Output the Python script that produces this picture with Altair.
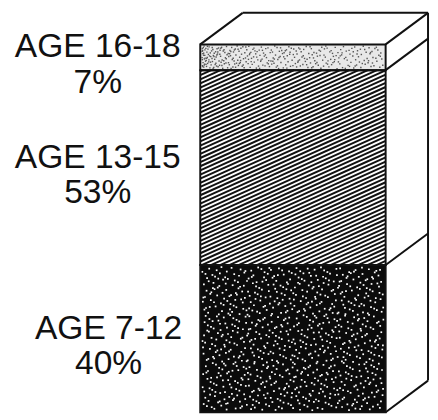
import altair as alt
import pandas as pd
import numpy as np

# ---- data (bottom to top) ----
ages = ["AGE 7-12", "AGE 13-15", "AGE 16-18"]
shares = [40, 53, 7]

# ---- style ----
fills = ["#0b0b0b", "#ffffff", "#e8e8e8"]
label_x = [102, 91, 91]        # pixel centre of each label block
INK = "#111111"
W, H = 428, 410
X_RANGE = [195, 383]
Y_RANGE = [407, 34]
DEPTH_X = 43 / (X_RANGE[1] - X_RANGE[0])            # in x units
DEPTH_Y = 32 / (Y_RANGE[0] - Y_RANGE[1]) * 100       # in percent units

y1 = np.cumsum(shares)
y0 = y1 - np.array(shares)
seg = pd.DataFrame({
    "age": ages, "share": shares, "pct": [f"{s}%" for s in shares],
    "x0": 0.0, "x1": 1.0, "y0": y0, "y1": y1, "mid": (y0 + y1) / 2,
    "fill": fills, "lx": label_x,
})

xs = alt.Scale(domain=[0, 1], range=X_RANGE, nice=False, zero=False)
ys = alt.Scale(domain=[0, 100], range=Y_RANGE, nice=False, zero=False)

# ---- hatch lines for the middle segment (texture) ----
px_per_x = X_RANGE[1] - X_RANGE[0]
px_per_y = (Y_RANGE[0] - Y_RANGE[1]) / 100
slope = 0.45 * px_per_x / px_per_y      # percent per x unit
step = 4.2 / px_per_y                    # vertical spacing in percent
ya, yb = y0[1], y1[1]
rows = []
c = ya - slope
while c < yb:
    xlo = max(0.0, (ya - c) / slope)
    xhi = min(1.0, (yb - c) / slope)
    if xhi > xlo:
        rows.append({"hx": xlo, "hy": c + slope * xlo, "hx2": xhi, "hy2": c + slope * xhi})
    c += step
hatch = pd.DataFrame(rows)

# ---- speckle / stipple textures (deterministic Halton points) ----
def halton(i, b):
    f, r = 1.0, 0.0
    while i > 0:
        f /= b
        r += f * (i % b)
        i //= b
    return r

n_dark = 900
dark = pd.DataFrame({
    "sx": [0.01 + 0.98 * halton(i + 1, 2) for i in range(n_dark)],
    "sy": [y0[0] + 0.5 + (shares[0] - 1.0) * halton(i + 1, 3) for i in range(n_dark)],
})
n_light = 340
light = pd.DataFrame({
    "sx": [0.01 + 0.98 * halton(i + 1, 2) ** 1.4 for i in range(n_light)],
    "sy": [y0[2] + 0.4 + (shares[2] - 0.8) * halton(i + 1, 3) for i in range(n_light)],
})

# ---- 3-D edges (top and side faces) ----
edges = [
    (0, 100, DEPTH_X, 100 + DEPTH_Y),
    (DEPTH_X, 100 + DEPTH_Y, 1 + DEPTH_X, 100 + DEPTH_Y),
    (1, 100, 1 + DEPTH_X, 100 + DEPTH_Y),
    (1 + DEPTH_X, 100 + DEPTH_Y, 1 + DEPTH_X, DEPTH_Y),
    (1, 0, 1 + DEPTH_X, DEPTH_Y),
]
for b in y1[:-1]:
    edges.append((1, b, 1 + DEPTH_X, b + DEPTH_Y))
edf = pd.DataFrame(edges, columns=["ex", "ey", "ex2", "ey2"])

faces = alt.Chart(seg).mark_rect(strokeWidth=0).encode(
    x=alt.X("x0:Q", scale=xs, axis=None), x2="x1:Q",
    y=alt.Y("y0:Q", scale=ys, axis=None), y2="y1:Q",
    fill=alt.Fill("fill:N", scale=None),
)
hatch_l = alt.Chart(hatch).mark_rule(color=INK, strokeWidth=2).encode(
    x=alt.X("hx:Q", scale=xs, axis=None), x2="hx2:Q",
    y=alt.Y("hy:Q", scale=ys, axis=None), y2="hy2:Q",
)
dark_l = alt.Chart(dark).mark_square(color="#ffffff", size=3, opacity=1).encode(
    x=alt.X("sx:Q", scale=xs, axis=None), y=alt.Y("sy:Q", scale=ys, axis=None),
)
light_l = alt.Chart(light).mark_square(color="#555555", size=2, opacity=1).encode(
    x=alt.X("sx:Q", scale=xs, axis=None), y=alt.Y("sy:Q", scale=ys, axis=None),
)
outline = alt.Chart(seg).mark_rect(fillOpacity=0, stroke=INK, strokeWidth=2).encode(
    x=alt.X("x0:Q", scale=xs, axis=None), x2="x1:Q",
    y=alt.Y("y0:Q", scale=ys, axis=None), y2="y1:Q",
)
edge_l = alt.Chart(edf).mark_rule(color=INK, strokeWidth=2).encode(
    x=alt.X("ex:Q", scale=xs, axis=None), x2="ex2:Q",
    y=alt.Y("ey:Q", scale=ys, axis=None), y2="ey2:Q",
)
txt = dict(font="Liberation Sans", fontSize=34, align="center", baseline="middle", color=INK)
lab1 = alt.Chart(seg).mark_text(dy=-10, **txt).encode(
    x=alt.X("lx:Q", scale=None), y=alt.Y("mid:Q", scale=ys, axis=None), text="age:N",
)
lab2 = alt.Chart(seg).mark_text(dy=26, **txt).encode(
    x=alt.X("lx:Q", scale=None), y=alt.Y("mid:Q", scale=ys, axis=None), text="pct:N",
)

chart = alt.layer(faces, hatch_l, dark_l, light_l, outline, edge_l, lab1, lab2).properties(
    width=W, height=H, autosize=alt.AutoSizeParams(type="none"), padding=0,
).configure_view(stroke=None)

chart.save("out.html", embed_options={"renderer": "svg", "actions": False})
